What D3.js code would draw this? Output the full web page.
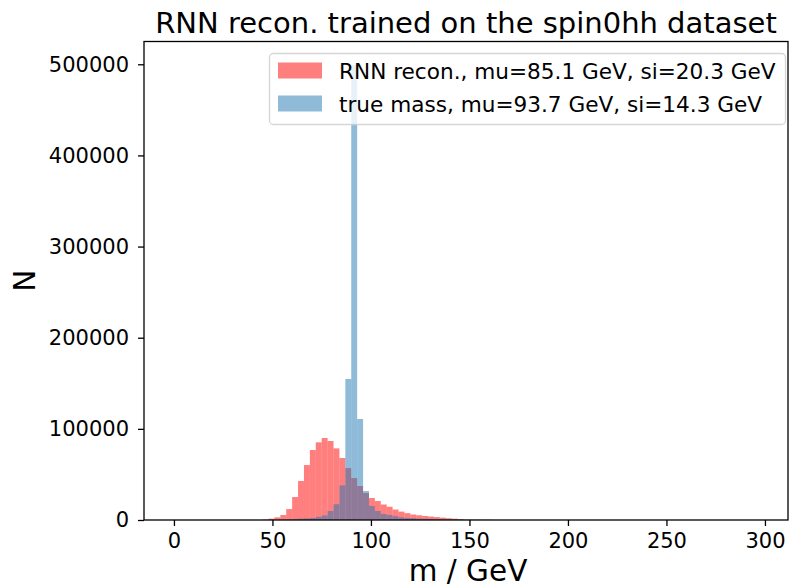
<!DOCTYPE html>
<html><head><meta charset="utf-8">
<script src="https://cdn.jsdelivr.net/npm/d3@7"></script>
<style>
body{margin:0;background:#fff}
svg{display:block}
text{font-family:"DejaVu Sans",sans-serif;fill:#000}
</style>
</head><body>
<svg id="chart" width="789" height="588"></svg>
<script>
// ---- data ----
const binWidth = 3; // GeV
const binStarts = [45,48,51,54,57,60,63,66,69,72,75,78,81,84,87,90,93,96,99,102,105,108,111,114,117,120,123,126,129,132,135,138,141,144,147,150,153,156,159];
const recoCounts = [400,1500,2900,5500,12000,25200,42800,60300,76800,85200,90000,86700,78600,68000,57000,46000,37300,29600,24100,20800,17000,14500,11500,9200,7500,6000,5200,4400,3800,3200,2600,2000,1500,800,0,0,0,0,0];
const trueCounts = [0,0,100,300,600,1000,1500,1800,2200,3500,5000,9900,17300,38000,154700,499000,110800,31800,15400,9900,6600,5500,4200,2900,2200,2000,1500,1400,1200,1000,900,800,700,600,500,500,400,400,300];
const seriesNames = ["RNN recon., mu=85.1 GeV, si=20.3 GeV", "true mass, mu=93.7 GeV, si=14.3 GeV"];
const seriesColors = ["red", "#1f77b4"];
const xTicks = [0,50,100,150,200,250,300];
const yTicks = [0,100000,200000,300000,400000,500000];
const titleText = "RNN recon. trained on the spin0hh dataset";
const xLabel = "m / GeV";
const yLabel = "N";

// ---- layout ----
const L = 144, R = 788, T = 41.5, B = 520;
const svg = d3.select("#chart");
const x = d3.scaleLinear().domain([-15.2, 311.7]).range([L, R]);
const y = d3.scaleLinear().domain([0, 525000]).range([B, T]);

const series = [recoCounts, trueCounts];
series.forEach((counts, si) => {
  svg.append("g").selectAll("rect")
    .data(binStarts.map((s, i) => ({s, v: counts[i]})).filter(d => d.v > 0))
    .join("rect")
    .attr("x", d => x(d.s))
    .attr("width", d => x(d.s + binWidth) - x(d.s))
    .attr("y", d => y(d.v))
    .attr("height", d => y(0) - y(d.v))
    .attr("fill", seriesColors[si])
    .attr("fill-opacity", 0.5);
});

// spines
const sp = svg.append("g").attr("stroke", "#000").attr("stroke-width", 1.3).attr("fill", "none");
sp.append("rect").attr("x", L).attr("y", T).attr("width", R - L).attr("height", B - T);

// axes
const xAxis = svg.append("g").attr("transform", `translate(0,${B})`)
  .call(d3.axisBottom(x).tickValues(xTicks).tickSize(6).tickPadding(7).tickFormat(d3.format("d")));
const yAxis = svg.append("g").attr("transform", `translate(${L},0)`)
  .call(d3.axisLeft(y).tickValues(yTicks).tickSize(6).tickPadding(9).tickFormat(d3.format("d")));
[xAxis, yAxis].forEach(a => {
  a.select(".domain").remove();
  a.selectAll(".tick line").attr("stroke", "#000").attr("stroke-width", 1.3);
  a.selectAll(".tick text").style("font-size", "21px").style("font-family", '"DejaVu Sans",sans-serif').attr("fill", "#000");
});

// labels
svg.append("text").attr("x", (L + R) / 2).attr("y", 33).attr("text-anchor", "middle")
  .style("font-size", "29px").text(titleText);
svg.append("text").attr("x", (L + R) / 2 + 2).attr("y", 581).attr("text-anchor", "middle")
  .style("font-size", "29.5px").text(xLabel);
svg.append("text").attr("transform", `translate(35,${(T + B) / 2}) rotate(-90)`).attr("text-anchor", "middle")
  .style("font-size", "29.5px").text(yLabel);

// legend
const lg = svg.append("g");
lg.append("rect").attr("x", 269.5).attr("y", 53.5).attr("width", 516).attr("height", 71).attr("rx", 4)
  .attr("fill", "#fff").attr("fill-opacity", 0.8).attr("stroke", "#cccccc").attr("stroke-opacity", 0.8).attr("stroke-width", 1.3);
seriesNames.forEach((name, i) => {
  const yy = 62.5 + i * 33;
  lg.append("rect").attr("x", 278).attr("y", yy).attr("width", 44).attr("height", 16)
    .attr("fill", seriesColors[i]).attr("fill-opacity", 0.5);
  lg.append("text").attr("x", 339).attr("y", yy + 16).style("font-size", "21.6px").text(name);
});
</script>
</body></html>
